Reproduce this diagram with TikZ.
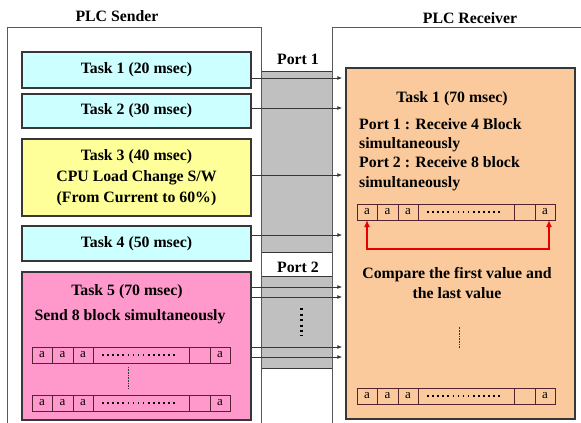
\documentclass[tikz,border=0pt]{standalone}
\usepackage{fontspec}
\setmainfont{Liberation Serif}
\usepackage{tikz}
\usetikzlibrary{arrows.meta}

\definecolor{taskcyan}{RGB}{204,255,255}
\definecolor{taskyellow}{RGB}{255,255,153}
\definecolor{taskpink}{RGB}{255,153,204}
\definecolor{taskorange}{RGB}{250,201,156}
\definecolor{portgray}{RGB}{192,192,192}
\definecolor{linedark}{RGB}{55,55,55}
\definecolor{cellline}{RGB}{85,35,45}
\definecolor{cmpred}{RGB}{230,0,0}

% one row of data blocks: name, left, top
\newcommand{\blockrow}[3]{%
  \node[cell, minimum width=20pt, anchor=north west] (#1a) at (#2,#3) {a};
  \node[cell, minimum width=21pt, anchor=west] (#1b) at (#1a.east) {a};
  \node[cell, minimum width=20pt, anchor=west] (#1c) at (#1b.east) {a};
  \node[cell, minimum width=96pt, anchor=west] (#1d) at (#1c.east) {};
  \node[cell, minimum width=21pt, anchor=west] (#1e) at (#1d.east) {};
  \node[cell, minimum width=20pt, anchor=west] (#1f) at (#1e.east) {a};
  \draw[dotrow] ([xshift=9pt]#1d.west) -- ([xshift=-13pt]#1d.east);
}

\begin{document}
\begin{tikzpicture}[x=1pt, y=-1pt,
  font=\fontsize{15.8}{19.3}\selectfont\bfseries,
  frame/.style={draw=gray!70!black, line width=1pt, anchor=north west},
  task/.style={draw=linedark, line width=1.4pt, minimum width=229pt, inner sep=0pt},
  band/.style={draw=linedark, fill=portgray, line width=0.9pt, anchor=north west, minimum width=71pt},
  cell/.style={draw=cellline, line width=1pt, minimum height=16pt, inner sep=0pt, outer sep=0pt,
    font=\fontsize{13}{13}\selectfont\mdseries},
  dotrow/.style={line width=1.9pt, dash pattern=on 1.6pt off 3.5pt},
  thindots/.style={draw=linedark, line width=0.6pt, dash pattern=on 0.8pt off 0.8pt},
  bigdots/.style={line width=2.2pt, dash pattern=on 2pt off 3.4pt},
  conn/.style={-{Latex[length=5pt,width=4pt]}, draw=linedark, line width=0.9pt, shorten >=3pt},
  cmparrow/.style={{Latex[length=7pt,width=6pt]}-{Latex[length=7pt,width=6pt]}, draw=cmpred, line width=1.8pt}]
\useasboundingbox (0,0) rectangle (581,423);
\fill[white] (0,0) rectangle (581,423);

% Titles
\node (sendlbl) at (117,16) {PLC Sender};
\node (recvlbl) at (470,18) {PLC Receiver};

% Port bands
\node[band, minimum height=181pt] (band1) at (261,71) {};
\node[band, minimum height=92pt] (band2) at (261,276) {};
\node (port1) at (298,59) {Port 1};
\node (port2) at (298,267) {Port 2};
\draw[bigdots] ([xshift=4.5pt,yshift=14pt]band2.center) -- ([xshift=4.5pt,yshift=-14pt]band2.center);

% Frames
\node[frame, minimum width=254pt, minimum height=420pt] (sender) at (7,27) {};
\node[frame, minimum width=250pt, minimum height=420pt] (receiver) at (332,27) {};

% Sender tasks
\node[task, fill=taskcyan, minimum height=36pt] (t1) at (136.5,70) {Task 1 (20 msec)};
\node[task, fill=taskcyan, minimum height=34pt] (t2) at (136.5,111) {Task 2 (30 msec)};
\node[task, fill=taskyellow, minimum height=77pt, align=center,
  font=\fontsize{15.8}{21}\selectfont\bfseries] (t3) at (136.5,177.5)
  {Task 3 (40 msec)\\CPU Load Change S/W\\(From Current to 60\%)};
\node[task, fill=taskcyan, minimum height=35pt] (t4) at (136.5,243.5) {Task 4 (50 msec)};
\node[task, fill=taskpink, minimum height=148pt] (t5) at (136.5,346) {};
\node (t5title) at (127,292) {Task 5 (70 msec)};
\node (t5text) at (130,317) {Send 8 block simultaneously};
\blockrow{s1}{32}{347}
\blockrow{s2}{32}{395}
\draw[thindots] ([xshift=35pt,yshift=-4pt]s1d.south west) -- ([xshift=35pt,yshift=6pt]s2d.north west);

% Receiver task
\node[task, fill=taskorange, minimum height=351pt] (rtask) at (460.5,243.5) {};
\node (rtitle) at (452,99) {Task 1 (70 msec)};
\node[align=left, anchor=north west, inner sep=0pt] (rtext) at (359,118)
  {Port 1 : Receive 4 Block\\simultaneously\\Port 2 : Receive 8 block\\simultaneously};
\blockrow{r1}{357}{204}
\blockrow{r2}{357}{388}
\draw[cmparrow] (r1a.south) -- ++(0,29) -| ([xshift=4pt]r1f.south);
\node[align=center] (cmp) at (457,283) {Compare the first value and\\the last value};
\draw[thindots] ([xshift=41pt,yshift=40pt]r2d.north west) -- ([xshift=41pt,yshift=61pt]r2d.north west);

% Arrows
\foreach \src/\dy in {t1/-8, t2/3, t3/2.5, t4/8.5, t5/59, t5/49, t5/-1, t5/-11}
  \draw[conn] ([yshift=\dy pt]\src.east) coordinate (tmp) -- (tmp -| rtask.west);
\end{tikzpicture}
\end{document}
